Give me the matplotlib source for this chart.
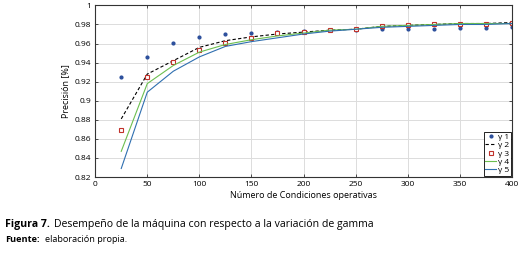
# Precision vs number of operating conditions for several gamma values

import numpy as np
import matplotlib.pyplot as plt

# Data
n_cond = [25, 50, 75, 100, 125, 150, 175, 200, 225, 250, 275, 300, 325, 350, 375, 400]

gamma1 = [0.925, 0.9456, 0.9603, 0.9673, 0.9698, 0.9708, 0.9718, 0.9728, 0.974, 0.9743,
          0.9753, 0.9757, 0.9757, 0.976, 0.976, 0.977]
gamma2 = [0.881, 0.928, 0.942, 0.956, 0.963, 0.967, 0.970, 0.972, 0.974, 0.975,
          0.978, 0.979, 0.980, 0.981, 0.981, 0.982]
gamma3 = [0.869, 0.9245, 0.9405, 0.9535, 0.961, 0.9655, 0.9708, 0.9725, 0.974, 0.9755,
          0.978, 0.9795, 0.980, 0.981, 0.981, 0.982]
gamma4 = [0.847, 0.918, 0.937, 0.951, 0.959, 0.964, 0.968, 0.971, 0.974, 0.975,
          0.978, 0.979, 0.980, 0.981, 0.981, 0.981]
gamma5 = [0.829, 0.909, 0.931, 0.946, 0.957, 0.962, 0.966, 0.970, 0.973, 0.975,
          0.977, 0.978, 0.979, 0.980, 0.980, 0.981]

labels = ["γ 1", "γ 2", "γ 3", "γ 4", "γ 5"]

plt.rcParams['font.family'] = ['Open Sans', 'DejaVu Sans']

fig = plt.figure(figsize=(5.26, 2.57), dpi=100)
ax = fig.add_axes([0.181, 0.311, 0.792, 0.668])

ax.plot(n_cond, gamma1, linestyle="none", marker="o", markersize=2,
        color="#2c4f9c", label=labels[0])
ax.plot(n_cond, gamma2, linestyle=(0, (3, 2)), linewidth=0.8,
        color="black", label=labels[1])
ax.plot(n_cond, gamma3, linestyle="none", marker="s", markersize=2.4,
        markerfacecolor="white", markeredgecolor="#c0322b", markeredgewidth=0.8,
        label=labels[2])
ax.plot(n_cond, gamma4, linewidth=0.8, color="#6cbf4f", label=labels[3])
ax.plot(n_cond, gamma5, linewidth=0.8, color="#2f6fb0", label=labels[4])

ax.set_xlim(0, 400)
ax.set_ylim(0.82, 1.0)
ax.set_xticks(np.arange(0, 401, 50))
ax.set_yticks(np.arange(0.82, 1.001, 0.02))
ax.set_yticklabels(["0.82", "0.84", "0.86", "0.88", "0.9", "0.92", "0.94",
                    "0.96", "0.98", "1"])
ax.grid(True, color="#dcdcdc", linewidth=0.7)
ax.set_axisbelow(True)
ax.tick_params(direction="in", length=2.5, width=0.6, labelsize=6, pad=3,
               top=True, right=True, color="#333333")
for s in ax.spines.values():
    s.set_linewidth(0.8)
    s.set_color("#333333")

ax.set_xlabel("Número de Condiciones operativas", fontsize=6.5, labelpad=2)
ax.set_ylabel("Precisión [%]", fontsize=6.5, labelpad=3)

leg = ax.legend(loc="lower right", fontsize=6, handlelength=1.3, handletextpad=0.2,
                borderpad=0.2, labelspacing=0.05, borderaxespad=0.15,
                fancybox=False, framealpha=1)
leg.get_frame().set_edgecolor("black")
leg.get_frame().set_linewidth(0.6)

# Caption below the chart
fig.text(0.0095, 0.126, "Figura 7.", fontsize=7.6, fontweight="bold", va="center")
fig.text(0.103, 0.126, "Desempeño de la máquina con respecto a la variación de gamma",
         fontsize=7.6, va="center")
fig.text(0.0095, 0.067, "Fuente:", fontsize=6.6, fontweight="bold", va="center")
fig.text(0.085, 0.067, "elaboración propia.", fontsize=6.6, va="center")

fig.savefig("out.png", dpi=100)
